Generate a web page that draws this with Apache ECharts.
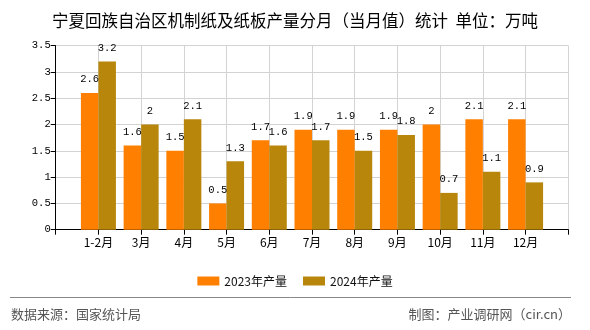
<!DOCTYPE html>
<html>
<head>
<meta charset="utf-8">
<script src="https://cdn.jsdelivr.net/npm/echarts@6/dist/echarts.min.js"></script>
<style>html,body{margin:0;padding:0;background:#fff;}#c{width:590px;height:330px;}</style>
</head>
<body>
<div id="c"></div>
<script>
const categories = ['1-2月','3月','4月','5月','6月','7月','8月','9月','10月','11月','12月'];
const values2023 = [2.6, 1.6, 1.5, 0.5, 1.7, 1.9, 1.9, 1.9, 2, 2.1, 2.1];
const values2024 = [3.2, 2, 2.1, 1.3, 1.6, 1.7, 1.5, 1.8, 0.7, 1.1, 0.9];
const seriesNames = ['2023年产量', '2024年产量'];
const yTicks = [0, 0.5, 1, 1.5, 2, 2.5, 3, 3.5];

// padded category axis: blank slots at both ends
const axisCats = [''].concat(categories, ['']);
const pad = arr => [null].concat(arr, [null]);

const chart = echarts.init(document.getElementById('c'), null, {renderer: 'canvas'});
const monoFont = '"Liberation Mono", "DejaVu Sans Mono", monospace';
const cjkFont = '"Noto Sans CJK SC", "Noto Sans", sans-serif';
chart.setOption({
  animation: false,
  backgroundColor: '#fff',
  title: {
    text: '宁夏回族自治区机制纸及纸板产量分月（当月值）统计  单位：万吨',
    left: 'center', top: 7,
    textStyle: {fontFamily: cjkFont, fontSize: 16.5, fontWeight: 'normal', color: '#000'}
  },
  legend: {
    top: 270, left: 'center',
    itemWidth: 22, itemHeight: 9, itemGap: 16,
    icon: 'rect',
    textStyle: {fontFamily: cjkFont, fontSize: 12, color: '#111'},
    data: seriesNames
  },
  grid: {left: 55.7, right: 21.7, top: 45.7, bottom: 100.3, containLabel: false},
  xAxis: {
    type: 'category',
    data: axisCats,
    boundaryGap: false,
    axisLine: {lineStyle: {color: '#000', width: 1}},
    axisTick: {show: true, interval: 0, length: 5, lineStyle: {color: '#000'}},
    axisLabel: {interval: 0, color: '#000', fontFamily: cjkFont, fontSize: 12, margin: 7},
    splitLine: {show: true, interval: 0, lineStyle: {color: '#d3d3d3', width: 1}}
  },
  yAxis: {
    type: 'value',
    min: yTicks[0], max: yTicks[yTicks.length - 1], interval: 0.5,
    axisLine: {show: true, lineStyle: {color: '#000', width: 1}},
    axisTick: {show: true, length: 5, lineStyle: {color: '#000'}},
    axisLabel: {color: '#000', fontFamily: monoFont, fontSize: 10.5, margin: 5},
    splitLine: {show: true, lineStyle: {color: '#d3d3d3', width: 1}}
  },
  series: [
    {
      name: seriesNames[0], type: 'bar', data: pad(values2023),
      barWidth: 17.5, barGap: '0%',
      itemStyle: {color: '#FF8000'},
      label: {show: true, position: 'top', distance: 8, color: '#000', fontFamily: monoFont, fontSize: 10.5}
    },
    {
      name: seriesNames[1], type: 'bar', data: pad(values2024),
      barWidth: 17.5, barGap: '0%',
      itemStyle: {color: '#B8860B'},
      label: {show: true, position: 'top', distance: 8, color: '#000', fontFamily: monoFont, fontSize: 10.5}
    }
  ],
  graphic: [
    {type: 'line', shape: {x1: 10, y1: 297.5, x2: 571, y2: 297.5}, style: {stroke: '#888', lineWidth: 1}},
    {type: 'text', left: 11, top: 308, style: {text: '数据来源：国家统计局', font: '13px "Noto Sans CJK SC", sans-serif', fill: '#555'}},
    {type: 'text', right: 19, top: 308, style: {text: '制图：产业调研网（cir.cn）', font: '13px "Noto Sans CJK SC", sans-serif', fill: '#555'}}
  ]
});
</script>
</body>
</html>
